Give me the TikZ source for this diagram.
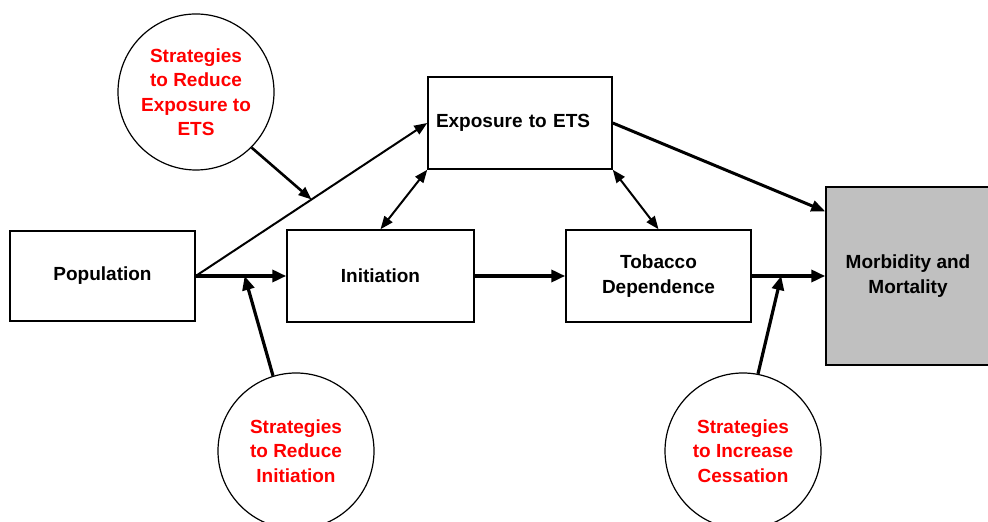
\documentclass[tikz,border=0pt]{standalone}
\usepackage{fontspec}
\setsansfont{Liberation Sans}
\usetikzlibrary{arrows.meta,calc}
\definecolor{boxgray}{HTML}{C0C0C0}
\tikzset{
	stbox/.style={draw,line width=0.75pt,inner sep=0pt,minimum width=92.5pt,minimum height=46pt,align=center,font=\sffamily\bfseries\fontsize{9.5}{12.25}\selectfont},
	strat/.style={draw,circle,line width=0.6pt,inner sep=0pt,minimum size=78pt,align=center,text=red,font=\sffamily\bfseries\fontsize{9.5}{12.25}\selectfont},
	bigarr/.style={line width=2pt,-{Triangle[length=7pt,width=6pt]}},
	midarr/.style={line width=1.5pt,-{Triangle[length=7pt,width=5.5pt]}},
	smallarr/.style={line width=1pt,-{Triangle[length=6.5pt,width=5pt]}},
	dblarr/.style={line width=1pt,{Triangle[length=6.5pt,width=5pt]}-{Triangle[length=6.5pt,width=5pt]}}
}
\begin{document}
\begin{tikzpicture}[x=0.5pt,y=-0.5pt]
	\clip (0,0) rectangle (988,522);
	\node [stbox,minimum height=45pt] (Population) at (102.5,276) {Population};
	\node [stbox,minimum width=93.5pt] (Initiation) at (380.5,276) {Initiation};
	\node [stbox,minimum width=92pt,text width=84pt,align=left] (Exposure) at (520,123) {Exposure to ETS};
	\node [stbox] (Tobacco) at (658.5,276) {Tobacco\\Dependence};
	\node [stbox,fill=boxgray,minimum width=82pt,minimum height=89pt] (Morbidity) at (908,276) {Morbidity and\\Mortality};

	\node [strat] (ETSc) at (196,92) {Strategies\\to Reduce\\Exposure to\\ETS};
	\node [strat] (Initc) at (296,451) {Strategies\\to Reduce\\Initiation};
	\node [strat] (Cessc) at (743,451) {Strategies\\to Increase\\Cessation};

	\coordinate (ppe) at ($(Population.east)!0.5!(Exposure.west)$);
	\coordinate (ppi) at ($(Population.east)!0.54!(Initiation.west)$);
	\coordinate (ptm) at ($(Tobacco.east)!0.4!(Morbidity.west)$);
	\coordinate (mtop) at ($(Morbidity.north west)!0.14!(Morbidity.south west)$);

	\draw [bigarr] (Population.east) -- (Initiation.west);
	\draw [smallarr] (Population.east) -- (Exposure.west);
	\draw [bigarr] (Initiation.east) -- (Tobacco.west);
	\draw [bigarr] (Tobacco.east) -- (Morbidity.west);
	\draw [midarr] (Exposure.east) -- (mtop);
	\draw [dblarr] (Initiation.north) -- (Exposure.south west);
	\draw [dblarr] (Exposure.south east) -- (Tobacco.north);
	\draw [smallarr,line width=1.3pt] (ETSc.-45) -- (ppe);
	\draw [bigarr,line width=1.6pt] (Initc.107) -- (ppi);
	\draw [bigarr,line width=1.6pt] (Cessc.79) -- (ptm);
\end{tikzpicture}
\end{document}
